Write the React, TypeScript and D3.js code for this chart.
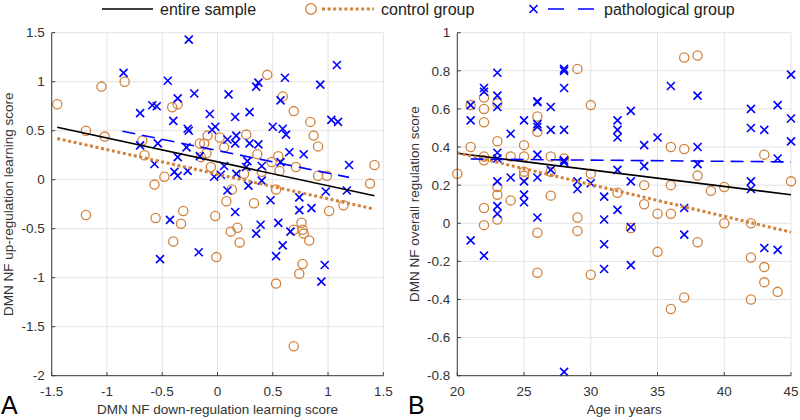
import React from "react";
import * as d3 from "d3";

// ---------- Data ----------
// Panel A: [down-regulation learning score, up-regulation learning score]
const controlA: [number, number][] = [
  [-1.45, 0.77], [-1.19, 0.5], [-1.05, 0.95], [-1.02, 0.44], [-0.84, 1.0], [-0.68, 0.4], [-0.66, 0.25],
  [-0.57, -0.05], [-0.48, 0.03], [-0.41, 0.74], [-0.36, 0.77], [-0.16, 0.37], [-0.12, 0.37], [-0.09, 0.45],
  [-0.1, 0.27], [-0.15, 0.23], [-0.06, 0.13], [0.02, 0.43], [0.06, 0.33], [0.26, 0.46], [0.24, 0.06],
  [0.36, 0.26], [0.4, 0.08], [0.45, 1.07], [0.49, 0.18], [0.55, 0.24], [0.56, 0.09], [0.59, 0.85],
  [0.69, 0.7], [0.71, 0.13], [0.84, 0.59], [0.87, 0.45], [0.91, 0.34], [0.91, 0.04], [0.99, 0.04],
  [1.38, -0.04], [1.42, 0.15], [0.08, -0.22], [0.13, -0.1], [0.33, -0.24], [0.53, -0.1], [1.14, -0.26],
  [1.01, -0.32], [-0.31, -0.32], [-1.19, -0.36], [-0.56, -0.39], [-0.33, -0.45], [-0.4, -0.63],
  [-0.02, -0.37], [-0.01, -0.79], [0.12, -0.53], [0.18, -0.49], [0.2, -0.64], [0.53, -1.06], [0.69, -1.7],
  [0.69, -0.51], [0.76, -0.44], [0.77, -0.51], [0.78, -0.55], [0.83, -0.62], [0.77, -0.86], [0.74, -0.96],
];
const pathA: [number, number][] = [
  [-0.85, 1.09], [-0.7, 0.68], [-0.59, 0.76], [-0.55, 0.75], [-0.7, 0.35], [-0.57, 0.16], [-0.54, 0.37],
  [-0.45, 1.01], [-0.4, 0.6], [-0.36, 0.83], [-0.36, 0.23], [-0.39, 0.08], [-0.36, 0.04], [-0.26, 1.43],
  [-0.27, 0.52], [-0.26, 0.5], [-0.28, 0.33], [-0.21, 0.88], [-0.27, 0.09], [-0.16, 0.24], [-0.07, 0.67],
  [-0.05, 0.51], [-0.02, 0.54], [-0.03, 0.03], [0.03, 0.05], [0.06, 0.14], [0.1, 0.87], [0.09, 0.41],
  [0.09, -0.11], [0.16, 0.64], [0.17, 0.45], [0.16, 0.37], [0.17, 0.06], [0.27, 0.19], [0.26, 0.13],
  [0.28, -0.06], [0.29, 0.69], [0.29, 0.37], [0.35, 0.95], [0.37, 0.99], [0.37, 0.36], [0.4, 0.14],
  [0.4, -0.01], [0.5, 0.54], [0.57, 0.81], [0.61, 1.04], [0.59, 0.52], [0.62, 0.46], [0.57, 0.18],
  [0.65, 0.28], [0.78, 0.26], [0.74, -0.18], [0.93, 0.97], [1.03, 0.61], [1.09, 0.59], [0.98, -0.12],
  [1.08, 1.17], [1.19, 0.15], [1.17, -0.11], [-0.43, -0.41], [-0.52, -0.81], [-0.17, -0.74], [0.16, -0.33],
  [0.39, -0.46], [0.35, -0.55], [0.55, -0.44], [0.59, -0.67], [0.53, -0.78], [0.66, -0.53], [0.74, -0.31],
  [0.85, -0.29], [0.97, -0.87], [0.94, -1.04], [0.48, -0.21],
];
// Fitted lines (endpoints) for panel A
const fitEntireA: [number, number][] = [[-1.45, 0.536], [1.42, -0.164]];
const fitControlA: [number, number][] = [[-1.45, 0.42], [1.42, -0.3]];
const fitPathA: [number, number][] = [[-0.86, 0.495], [1.19, 0.024]];

// Panel B: [age in years, overall regulation score]
const controlB: [number, number][] = [
  [20, 0.26], [21, 0.62], [21, 0.4], [22, 0.66], [22, 0.6], [22, 0.53], [22, 0.35], [22, 0.33], [22, 0.08],
  [22, -0.01], [23, 0.63], [23, 0.43], [23, 0.19], [23, 0.15], [23, 0.02], [24, 0.35], [24, 0.12],
  [25, 0.41], [25, 0.35], [25, 0.27], [25, 0.25], [26, 0.56], [26, 0.48], [26, -0.05], [26, -0.26],
  [27, 0.35], [27, 0.27], [27, 0.145], [28, 0.34], [29, 0.81], [29, 0.03], [29, -0.04], [30, 0.62],
  [30, 0.26], [30, -0.27], [32, 0.16], [33, -0.025], [34, 0.2], [34, 0.1], [35, 0.05], [35, -0.15],
  [36, 0.4], [36, 0.2], [36, 0.05], [36, -0.45], [37, 0.87], [37, 0.39], [37, -0.39], [38, 0.88],
  [38, 0.25], [38, -0.1], [39, 0.17], [40, 0.19], [40, 0.0], [42, 0.0], [42, -0.18], [42, -0.4],
  [43, 0.36], [43, -0.23], [43, -0.31], [44, -0.36], [45, 0.22],
];
const pathB: [number, number][] = [
  [21, 0.62], [21, 0.54], [21, -0.09], [22, 0.71], [22, 0.69], [22, -0.17], [23, 0.79], [23, 0.67],
  [23, 0.61], [23, 0.37], [23, 0.34], [23, 0.22], [23, 0.09], [23, 0.05], [24, 0.47], [24, 0.24],
  [25, 0.54], [25, 0.22], [25, 0.15], [25, 0.11], [26, 0.64], [26, 0.635], [26, 0.52], [26, 0.505],
  [26, 0.36], [26, 0.24], [26, 0.03], [27, 0.61], [27, 0.49], [27, 0.28], [28, 0.81], [28, 0.8],
  [28, 0.71], [28, 0.49], [28, 0.33], [28, 0.32], [28, -0.78], [29, 0.22], [29, 0.18], [30, 0.21],
  [31, 0.14], [31, 0.02], [31, -0.11], [31, -0.24], [32, 0.54], [32, 0.49], [32, 0.45], [32, 0.28],
  [32, 0.07], [33, 0.59], [33, 0.22], [33, -0.02], [33, -0.22], [34, 0.41], [34, 0.3], [35, 0.45],
  [36, 0.72], [37, 0.08], [37, -0.06], [38, 0.67], [38, 0.4], [38, 0.31], [42, 0.6], [42, 0.5],
  [42, 0.22], [42, 0.18], [43, 0.49], [43, -0.13], [44, 0.62], [44, 0.34], [44, -0.14], [45, 0.78],
  [45, 0.55], [45, 0.43],
];
const fitEntireB: [number, number][] = [[20, 0.367], [45, 0.15]];
const fitControlB: [number, number][] = [[20, 0.37], [45, -0.047]];
const fitPathB: [number, number][] = [[21, 0.337], [45, 0.322]];

const xTicksA = [-1.5, -1, -0.5, 0, 0.5, 1, 1.5];
const yTicksA = [-2, -1.5, -1, -0.5, 0, 0.5, 1, 1.5];
const xTicksB = [20, 25, 30, 35, 40, 45];
const yTicksB = [-0.8, -0.6, -0.4, -0.2, 0, 0.2, 0.4, 0.6, 0.8, 1];

const legendLabels = ["entire sample", "control group", "pathological group"];

// ---------- Styles ----------
const FONT = "'Liberation Sans', Arial, Helvetica, sans-serif";
const ORANGE = "#d1823c";
const BLUE = "#0000ff";
const AXIS = "#3a3a3a";
const GRID = "#e3e3e3";
const TEXT = "#333333";

const TOP = 32.7;
const BOTTOM = 375.7;

function fmt(v: number) {
  return String(Math.round(v * 10) / 10);
}

function Cross({ x, y }: { x: number; y: number }) {
  const s = 4;
  return (
    <path
      d={`M${x - s},${y - s}L${x + s},${y + s}M${x - s},${y + s}L${x + s},${y - s}`}
      stroke={BLUE}
      strokeWidth={1.6}
      fill="none"
    />
  );
}

function Circle({ x, y }: { x: number; y: number }) {
  return <circle cx={x} cy={y} r={4.6} fill="none" stroke={ORANGE} strokeWidth={1.3} />;
}

type PanelProps = {
  left: number;
  right: number;
  xDomain: [number, number];
  yDomain: [number, number];
  xTicks: number[];
  yTicks: number[];
  control: [number, number][];
  path: [number, number][];
  fitE: [number, number][];
  fitC: [number, number][];
  fitP: [number, number][];
  xLabel: string;
  yLabel: string;
  yLabelX: number;
  letter: string;
  letterX: number;
};

function Panel(p: PanelProps) {
  const x = d3.scaleLinear().domain(p.xDomain).range([p.left, p.right]);
  const y = d3.scaleLinear().domain(p.yDomain).range([BOTTOM, TOP]);
  const line = d3
    .line<[number, number]>()
    .x((d) => x(d[0]))
    .y((d) => y(d[1]));
  const midX = (p.left + p.right) / 2;
  const midY = (TOP + BOTTOM) / 2;
  return (
    <g>
      {p.xTicks.map((t) => (
        <line key={"gx" + t} x1={x(t)} x2={x(t)} y1={TOP} y2={BOTTOM} stroke={GRID} strokeWidth={1} />
      ))}
      {p.yTicks.map((t) => (
        <line key={"gy" + t} x1={p.left} x2={p.right} y1={y(t)} y2={y(t)} stroke={GRID} strokeWidth={1} />
      ))}
      {p.control.map((d, i) => (
        <Circle key={"c" + i} x={x(d[0])} y={y(d[1])} />
      ))}
      {p.path.map((d, i) => (
        <Cross key={"p" + i} x={x(d[0])} y={y(d[1])} />
      ))}
      <path d={line(p.fitE) || ""} stroke="#000" strokeWidth={1.6} fill="none" />
      <path d={line(p.fitC) || ""} stroke={ORANGE} strokeWidth={3} strokeDasharray="3 2.6" fill="none" />
      <path d={line(p.fitP) || ""} stroke={BLUE} strokeWidth={1.6} strokeDasharray="13 7" fill="none" />
      <line x1={p.left} x2={p.right} y1={BOTTOM} y2={BOTTOM} stroke={AXIS} strokeWidth={1} />
      <line x1={p.left} x2={p.left} y1={TOP} y2={BOTTOM} stroke={AXIS} strokeWidth={1} />
      {p.xTicks.map((t) => (
        <g key={"tx" + t}>
          <line x1={x(t)} x2={x(t)} y1={BOTTOM} y2={BOTTOM - 3.5} stroke={AXIS} strokeWidth={1} />
          <text x={x(t)} y={395.5} textAnchor="middle" fontSize={13.5} fill={TEXT} fontFamily={FONT}>
            {fmt(t)}
          </text>
        </g>
      ))}
      {p.yTicks.map((t) => (
        <g key={"ty" + t}>
          <line x1={p.left} x2={p.left + 3.5} y1={y(t)} y2={y(t)} stroke={AXIS} strokeWidth={1} />
          <text
            x={p.left - 7}
            y={y(t)}
            dy="0.35em"
            textAnchor="end"
            fontSize={13.5}
            fill={TEXT}
            fontFamily={FONT}
          >
            {fmt(t)}
          </text>
        </g>
      ))}
      <text x={midX} y={414} textAnchor="middle" fontSize={13.5} fill={TEXT} fontFamily={FONT}>
        {p.xLabel}
      </text>
      <text
        transform={`translate(${p.yLabelX},${midY}) rotate(-90)`}
        textAnchor="middle"
        fontSize={13.5}
        fill={TEXT}
        fontFamily={FONT}
      >
        {p.yLabel}
      </text>
      <text x={p.letterX} y={414} fontSize={25} fill="#000" fontFamily={FONT}>
        {p.letter}
      </text>
    </g>
  );
}

export default function App() {
  return (
    <svg width={800} height={420} style={{ position: "absolute", left: 0, top: 0, background: "#fff" }}>
      <rect width={800} height={420} fill="#fff" />
      <Panel
        left={51.7}
        right={383.3}
        xDomain={[-1.5, 1.5]}
        yDomain={[-2, 1.5]}
        xTicks={xTicksA}
        yTicks={yTicksA}
        control={controlA}
        path={pathA}
        fitE={fitEntireA}
        fitC={fitControlA}
        fitP={fitPathA}
        xLabel="DMN NF down-regulation learning score"
        yLabel="DMN NF up-regulation learning score"
        yLabelX={13}
        letter="A"
        letterX={1}
      />
      <Panel
        left={457.3}
        right={791}
        xDomain={[20, 45]}
        yDomain={[-0.8, 1]}
        xTicks={xTicksB}
        yTicks={yTicksB}
        control={controlB}
        path={pathB}
        fitE={fitEntireB}
        fitC={fitControlB}
        fitP={fitPathB}
        xLabel="Age in years"
        yLabel="DMN NF overall regulation score"
        yLabelX={419}
        letter="B"
        letterX={408}
      />
      <g fontFamily={FONT} fontSize={16} fill="#222">
        <line x1={102} x2={153} y1={9} y2={9} stroke="#000" strokeWidth={1.6} />
        <text x={160} y={14.5}>{legendLabels[0]}</text>
        <circle cx={311} cy={9} r={5.3} fill="none" stroke={ORANGE} strokeWidth={1.3} />
        <line x1={322} x2={374} y1={9} y2={9} stroke={ORANGE} strokeWidth={3} strokeDasharray="3 2.6" />
        <text x={381} y={14.5}>{legendLabels[1]}</text>
        <Cross x={533.5} y={9} />
        <line x1={548} x2={594} y1={9} y2={9} stroke={BLUE} strokeWidth={1.6} strokeDasharray="16 14" />
        <text x={604} y={14.5}>{legendLabels[2]}</text>
      </g>
    </svg>
  );
}
